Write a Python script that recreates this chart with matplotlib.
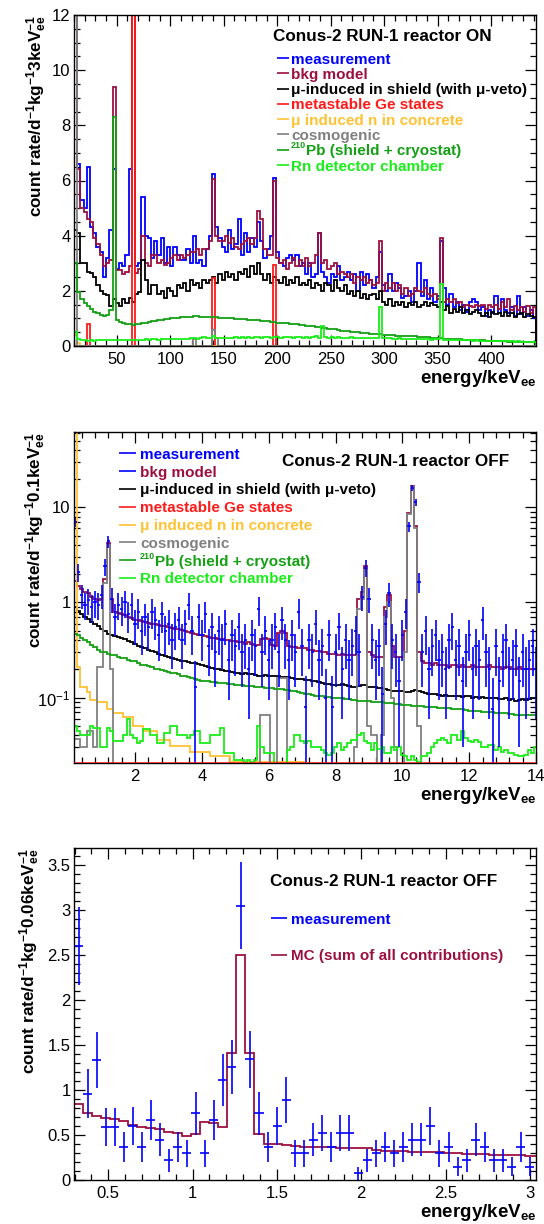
import numpy as np
import matplotlib
matplotlib.use("Agg")
import matplotlib.pyplot as plt
from matplotlib.transforms import offset_copy
from matplotlib.ticker import MultipleLocator, FixedLocator, FuncFormatter, LogLocator, NullFormatter

plt.rcParams['font.family'] = ['Liberation Sans', 'DejaVu Sans']
plt.rcParams['mathtext.fontset'] = 'custom'
plt.rcParams['mathtext.rm'] = 'Liberation Sans'
plt.rcParams['mathtext.bf'] = 'Liberation Sans:bold'
plt.rcParams['mathtext.it'] = 'Liberation Sans:italic'
plt.rcParams['mathtext.sf'] = 'Liberation Sans'

# ======================= DATA =======================
# ---- top panel: reactor ON, 3 keV bins starting at 10 keV ----
top_e_lo, top_bin = 10.0, 3.0
top_meas = [
    35.0, 6.6, 5.3, 5.0, 6.5, 4.3, 4.1, 3.6, 3.4, 2.5,
    3.2, 4.2, 6.4, 2.8, 3.0, 2.9, 3.3, 6.4, 20.0, 2.9,
    3.0, 5.4, 4.0, 3.9, 3.2, 3.8, 3.3, 3.9, 3.0, 3.6,
    2.9, 3.6, 3.3, 3.1, 3.1, 3.5, 3.0, 4.0, 3.0, 3.1,
    2.9, 3.5, 4.0, 6.25, 4.3, 3.9, 3.6, 3.4, 4.2, 3.5,
    3.7, 4.6, 3.3, 4.1, 3.4, 3.9, 3.6, 4.5, 3.8, 3.2,
    3.5, 4.0, 6.1, 3.4, 3.0, 2.9, 3.2, 3.3, 3.1, 3.3,
    2.9, 3.0, 2.6, 3.0, 2.5, 2.6, 4.1, 2.7, 2.5, 2.3,
    2.6, 2.5, 2.9, 2.4, 2.5, 2.7, 2.4, 2.6, 2.0, 2.7,
    2.2, 2.6, 2.4, 2.1, 2.5, 3.4, 2.2, 2.0, 2.6, 2.0,
    2.3, 2.1, 1.75, 1.8, 2.0, 1.6, 2.0, 3.0, 1.8, 2.4,
    1.7, 2.1, 1.6, 1.8, 3.8, 2.1, 1.5, 1.9, 1.4, 1.6,
    1.3, 1.5, 1.25, 1.6, 1.7, 1.6, 1.3, 1.4, 1.1, 1.3,
    1.2, 1.8, 1.2, 1.7, 1.3, 1.2, 1.4, 1.1, 1.8, 1.15,
    1.4, 1.1, 1.3, 1.0]
top_model = [
    35.0, 6.4, 5.0, 4.84, 4.6, 4.5, 3.9, 3.7, 3.3, 2.9,
    3.0, 3.1, 9.4, 2.75, 2.75, 2.6, 2.7, 2.9, 20.0, 2.65,
    2.8, 4.0, 3.0, 2.9, 3.3, 3.3, 3.0, 3.1, 2.95, 3.0,
    3.2, 3.3, 3.1, 3.3, 3.2, 3.3, 3.4, 3.4, 3.5, 3.3,
    3.5, 3.5, 3.8, 6.05, 4.0, 3.8, 3.8, 4.0, 3.75, 3.9,
    3.6, 3.5, 3.7, 3.8, 3.9, 3.7, 3.9, 4.9, 4.6, 3.5,
    3.3, 3.3, 6.0, 3.2, 3.0, 3.1, 2.8, 3.0, 3.2, 2.9,
    3.1, 2.9, 3.2, 2.9, 3.0, 3.3, 4.1, 3.0, 3.1, 2.8,
    2.9, 3.0, 2.6, 2.7, 2.6, 2.5, 2.6, 2.3, 2.5, 2.4,
    2.5, 2.3, 2.4, 2.2, 2.3, 3.8, 2.0, 2.3, 2.1, 2.3,
    2.0, 2.2, 1.9, 2.1, 1.8, 1.9, 2.1, 2.0, 1.95, 2.1,
    1.9, 1.8, 1.9, 1.7, 3.9, 1.6, 1.7, 1.6, 1.7, 1.55,
    1.6, 1.4, 1.5, 1.45, 1.4, 1.5, 1.45, 1.5, 1.35, 1.5,
    1.4, 1.5, 1.35, 1.6, 1.4, 1.7, 1.3, 1.45, 1.3, 1.4,
    1.25, 1.45, 1.2, 1.4]
top_mu = [
    4.2, 4.1, 3.0, 3.0, 2.7, 2.65, 2.5, 2.2, 2.0, 1.9,
    1.85, 1.45, 1.7, 1.55, 1.45, 1.7, 1.55, 1.75, 1.6, 1.9,
    1.95, 3.1, 2.4, 1.9, 2.2, 2.2, 1.9, 2.0, 1.75, 2.1,
    2.0, 1.8, 2.2, 2.1, 2.3, 2.0, 2.4, 2.2, 2.3, 2.1,
    2.4, 2.3, 2.4, 2.5, 2.3, 2.6, 2.4, 2.7, 2.5, 2.6,
    2.4, 2.7, 2.6, 2.8, 2.5, 2.9, 2.6, 3.0, 2.6, 2.4,
    2.6, 2.3, 2.5, 2.4, 2.3, 2.5, 2.2, 2.4, 2.3, 2.5,
    2.2, 2.3, 2.2, 2.4, 2.1, 2.3, 2.2, 2.0, 2.3, 2.2,
    2.0, 2.4, 2.1, 2.0, 2.2, 1.9, 2.0, 1.8, 2.0, 1.75,
    1.9, 1.7, 1.85, 1.9, 1.7, 2.0, 1.6, 1.5, 1.7, 1.45,
    1.6, 1.5, 1.6, 1.4, 1.55, 1.5, 1.6, 1.4, 1.5, 1.6,
    1.45, 1.55, 1.5, 1.4, 1.6, 1.3, 1.45, 1.2, 1.35, 1.25,
    1.4, 1.2, 1.3, 1.15, 1.25, 1.3, 1.2, 1.1, 1.2, 1.05,
    1.25, 1.15, 1.2, 1.1, 1.25, 1.1, 1.2, 1.05, 1.15, 1.2,
    1.05, 1.15, 1.1, 1.05]
top_pb210 = [
    3.0, 1.95, 1.7, 1.55, 1.45, 1.35, 1.25, 1.18, 1.12, 1.1,
    1.12, 1.3, 8.3, 0.93, 0.86, 0.82, 0.8, 0.78, 0.77, 0.78,
    0.8, 0.82, 0.85, 0.87, 0.89, 0.91, 0.93, 0.95, 0.97, 0.99,
    1.0, 1.02, 1.03, 1.04, 1.05, 1.06, 1.06, 1.07, 1.07, 1.06,
    1.06, 1.05, 1.05, 1.04, 1.04, 1.03, 1.03, 1.02, 1.01, 1.0,
    0.99, 0.98, 0.98, 0.97, 0.96, 0.95, 0.94, 0.93, 0.92, 0.9,
    0.89, 0.88, 0.86, 0.85, 0.84, 0.83, 0.82, 0.81, 0.8, 0.78,
    0.77, 0.76, 0.74, 0.73, 0.72, 0.7, 0.69, 0.67, 0.65, 0.63,
    0.61, 0.6, 0.58, 0.56, 0.54, 0.53, 0.52, 0.5, 0.49, 0.48,
    0.47, 0.46, 0.45, 0.44, 0.43, 0.42, 0.41, 0.41, 0.4, 0.39,
    0.38, 0.38, 0.37, 0.37, 0.36, 0.36, 0.35, 0.34, 0.33, 0.32,
    0.31, 0.3, 0.29, 0.28, 0.28, 0.27, 0.26, 0.26, 0.25, 0.24,
    0.24, 0.23, 0.23, 0.22, 0.22, 0.21, 0.2, 0.2, 0.19, 0.19,
    0.18, 0.18, 0.17, 0.17, 0.17, 0.16, 0.16, 0.16, 0.15, 0.15,
    0.15, 0.15, 0.14, 0.14]
top_rn = [
    0.5, 0.25, 0.2, 0.2, 0.19, 0.2, 0.19, 0.2, 0.2, 0.21,
    0.2, 0.21, 0.2, 0.21, 0.22, 0.21, 0.22, 0.22, 0.21, 0.22,
    0.23, 0.22, 0.24, 0.23, 0.24, 0.24, 0.23, 0.25, 0.24, 0.25,
    0.25, 0.26, 0.25, 0.27, 0.26, 0.27, 0.28, 0.3, 0.27, 0.3,
    0.32, 0.28, 0.3, 0.35, 0.3, 0.28, 0.29, 0.3, 0.29, 0.3,
    0.31, 0.3, 0.31, 0.3, 0.32, 0.3, 0.31, 0.32, 0.3, 0.31,
    0.31, 0.3, 0.32, 0.31, 0.3, 0.31, 0.32, 0.31, 0.3, 0.32,
    0.31, 0.3, 0.31, 0.3, 0.32, 0.35, 0.3, 0.72, 0.31, 0.3,
    0.31, 0.3, 0.32, 0.3, 0.29, 0.3, 0.31, 0.3, 0.29, 0.3,
    0.29, 0.28, 0.3, 0.29, 0.3, 1.4, 0.29, 0.3, 0.28, 0.27,
    0.27, 0.28, 0.26, 0.27, 0.26, 0.25, 0.26, 0.25, 0.24, 0.25,
    0.24, 0.23, 0.24, 0.25, 2.25, 0.23, 0.22, 0.21, 0.22, 0.21,
    0.2, 0.21, 0.2, 0.2, 0.19, 0.2, 0.19, 0.19, 0.18, 0.19,
    0.18, 0.18, 0.17, 0.18, 0.17, 0.17, 0.17, 0.16, 0.17, 0.16,
    0.16, 0.16, 0.15, 0.16]
# sparse components: {bin centre [keV]: value}, all other bins are zero
top_meta = {23.5: 0.8, 65.5: 20.0, 140.5: 2.48, 197.5: 2.93}
top_conc = {11.5: 0.4, 14.5: 0.1}
top_cosmo = {11.5: 35.0, 122.5: 0.27, 140.5: 0.58, 143.5: 0.3}

# ---- middle panel: reactor OFF, 0.1 keV bins (centres 0.2 ... 14.0 keV) ----
mid_c0, mid_bin = 0.2, 0.1
mid_meas = [
    7.0, 2.1, 1.2, 0.95, 1.05, 0.9, 1.0, 0.95, 1.2, 2.4,
    4.4, 1.1, 0.7, 0.95, 0.85, 1.0, 0.75, 0.95, 0.6, 0.8,
    0.5, 0.7, 0.55, 0.8, 0.65, 0.45, 0.75, 0.5, 0.6, 0.4,
    0.55, 0.65, 0.4, 0.6, 0.95, 0.5, 0.13, 0.7, 0.45, 0.75,
    0.35, 0.55, 0.3, 0.5, 0.4, 0.6, 0.25, 0.45, 0.35, 0.55,
    0.3, 0.4, 0.2, 0.45, 0.35, 0.85, 0.3, 0.5, 0.25, 0.4,
    0.55, 0.3, 0.65, 0.4, 0.25, 0.45, 0.3, 0.8, 0.35, 0.08,
    0.4, 0.3, 0.6, 0.25, 0.35, 0.1, 0.45, 0.08, 0.3, 0.55,
    0.2, 0.4, 0.25, 0.35, 0.5, 0.3, 1.15, 2.3, 1.1, 0.4,
    0.25, 0.35, 0.11, 0.6, 1.25, 0.4, 0.3, 0.15, 0.45, 0.8,
    6.3, 16.0, 11.3, 1.65, 0.3, 0.5, 0.2, 0.35, 0.45, 0.25,
    0.3, 0.2, 0.4, 0.55, 0.25, 0.35, 0.15, 0.3, 0.45, 0.2,
    0.35, 0.25, 0.65, 0.3, 0.2, 0.075, 0.35, 0.15, 0.3, 0.4,
    0.2, 0.25, 0.35, 0.15, 0.3, 0.2, 0.25, 0.35, 0.2]
mid_meas_err = [
    0.82, 0.45, 0.34, 0.30, 0.32, 0.29, 0.31, 0.30, 0.34, 0.48,
    0.65, 0.33, 0.26, 0.30, 0.29, 0.31, 0.27, 0.30, 0.24, 0.28,
    0.22, 0.26, 0.23, 0.28, 0.25, 0.21, 0.27, 0.22, 0.24, 0.20,
    0.23, 0.25, 0.20, 0.24, 0.30, 0.22, 0.11, 0.26, 0.21, 0.27,
    0.18, 0.23, 0.17, 0.22, 0.20, 0.24, 0.155, 0.21, 0.18, 0.23,
    0.17, 0.20, 0.14, 0.21, 0.18, 0.29, 0.17, 0.22, 0.155, 0.20,
    0.23, 0.17, 0.25, 0.20, 0.155, 0.21, 0.17, 0.28, 0.18, 0.088,
    0.20, 0.17, 0.24, 0.155, 0.18, 0.098, 0.21, 0.088, 0.17, 0.23,
    0.14, 0.20, 0.155, 0.18, 0.22, 0.17, 0.33, 0.47, 0.33, 0.20,
    0.155, 0.18, 0.10, 0.24, 0.35, 0.20, 0.17, 0.12, 0.21, 0.28,
    0.78, 1.24, 1.04, 0.40, 0.17, 0.22, 0.14, 0.18, 0.21, 0.155,
    0.17, 0.14, 0.20, 0.23, 0.155, 0.18, 0.12, 0.17, 0.21, 0.14,
    0.18, 0.155, 0.25, 0.17, 0.14, 0.085, 0.18, 0.12, 0.17, 0.20,
    0.14, 0.155, 0.18, 0.12, 0.17, 0.14, 0.155, 0.18, 0.14]
mid_model = [
    1.7, 1.5, 1.4, 1.3, 1.25, 1.15, 1.1, 1.05, 1.1, 1.75,
    4.2, 1.1, 0.8, 0.78, 0.76, 0.74, 0.7, 0.68, 0.66, 0.65,
    0.64, 0.62, 0.61, 0.6, 0.59, 0.58, 0.57, 0.56, 0.55, 0.54,
    0.53, 0.52, 0.51, 0.5, 0.49, 0.48, 0.47, 0.46, 0.45, 0.44,
    0.43, 0.42, 0.42, 0.41, 0.41, 0.4, 0.4, 0.39, 0.39, 0.38,
    0.38, 0.37, 0.38, 0.37, 0.36, 0.36, 0.41, 0.42, 0.41, 0.36,
    0.35, 0.48, 0.5, 0.48, 0.35, 0.34, 0.34, 0.33, 0.33, 0.33,
    0.32, 0.32, 0.31, 0.31, 0.3, 0.3, 0.29, 0.29, 0.29, 0.28,
    0.29, 0.28, 0.28, 0.28, 0.28, 1.1, 1.3, 2.4, 0.3, 0.28,
    0.27, 0.27, 0.27, 0.9, 1.2, 0.35, 0.27, 0.27, 0.27, 0.5,
    8.8, 16.9, 6.3, 0.3, 0.24, 0.23, 0.23, 0.22, 0.23, 0.22,
    0.22, 0.22, 0.21, 0.22, 0.22, 0.21, 0.22, 0.21, 0.21, 0.22,
    0.21, 0.21, 0.21, 0.21, 0.22, 0.21, 0.21, 0.21, 0.2, 0.21,
    0.21, 0.2, 0.2, 0.21, 0.2, 0.2, 0.2, 0.2, 0.2]
mid_mu = [
    0.9, 0.82, 0.76, 0.71, 0.67, 0.63, 0.59, 0.56, 0.53, 0.5,
    0.47, 0.46, 0.44, 0.43, 0.42, 0.41, 0.39, 0.38, 0.37, 0.35,
    0.34, 0.33, 0.32, 0.31, 0.3, 0.29, 0.28, 0.275, 0.27, 0.26,
    0.255, 0.25, 0.245, 0.24, 0.235, 0.23, 0.23, 0.225, 0.22, 0.215,
    0.21, 0.205, 0.2, 0.2, 0.195, 0.19, 0.19, 0.185, 0.18, 0.18,
    0.178, 0.18, 0.176, 0.175, 0.172, 0.17, 0.17, 0.172, 0.168, 0.17,
    0.168, 0.167, 0.165, 0.165, 0.163, 0.16, 0.158, 0.156, 0.155, 0.153,
    0.152, 0.15, 0.148, 0.145, 0.142, 0.14, 0.138, 0.137, 0.136, 0.135,
    0.138, 0.134, 0.133, 0.13, 0.13, 0.132, 0.135, 0.136, 0.13, 0.128,
    0.13, 0.127, 0.125, 0.123, 0.12, 0.118, 0.118, 0.117, 0.116, 0.115,
    0.114, 0.116, 0.12, 0.118, 0.115, 0.112, 0.11, 0.108, 0.11, 0.107,
    0.105, 0.106, 0.104, 0.105, 0.103, 0.104, 0.102, 0.104, 0.103, 0.1,
    0.101, 0.1, 0.102, 0.099, 0.1, 0.098, 0.099, 0.097, 0.096, 0.098,
    0.094, 0.096, 0.093, 0.095, 0.097, 0.094, 0.096, 0.098, 0.1]
mid_conc = [
    100.0, 0.21, 0.13, 0.13, 0.115, 0.095, 0.095, 0.09, 0.09, 0.09,
    0.075, 0.075, 0.069, 0.069, 0.069, 0.062, 0.062, 0.062, 0.05, 0.05,
    0.05, 0.045, 0.045, 0.045, 0.045, 0.036, 0.036, 0.036, 0.036, 0.031,
    0.031, 0.031, 0.031, 0.031, 0.031, 0.027, 0.027, 0.027, 0.027, 0.027,
    0.027, 0.024, 0.024, 0.024, 0.024, 0.024, 0.024, 0.021, 0.021, 0.021,
    0.021, 0.021, 0.021, 0.021, 0.021, 0.021, 0.021, 0.021, 0.021, 0.021,
    0.021, 0.021, 0.021, 0.021, 0.021, 0.021, 0.021, 0.021, 0.021, 0.015,
    0.015, 0.014, 0.013, 0.012, 0.011, 0.01, 0.0, 0.0, 0.0, 0.0,
    0.0, 0.0, 0.0, 0.0, 0.0, 0.0, 0.0, 0.0, 0.0, 0.0,
    0.0, 0.0, 0.0, 0.0, 0.0, 0.0, 0.0, 0.0, 0.0, 0.0,
    0.0, 0.0, 0.0, 0.0, 0.0, 0.0, 0.0, 0.0, 0.0, 0.0,
    0.0, 0.0, 0.0, 0.0, 0.0, 0.0, 0.0, 0.0, 0.0, 0.0,
    0.0, 0.0, 0.0, 0.0, 0.0, 0.0, 0.0, 0.0, 0.0, 0.0,
    0.0, 0.0, 0.0, 0.0, 0.0, 0.0, 0.0, 0.0, 0.0]
mid_pb210 = [
    0.47, 0.45, 0.42, 0.4, 0.38, 0.36, 0.34, 0.32, 0.3, 0.3,
    0.29, 0.28, 0.28, 0.27, 0.26, 0.26, 0.25, 0.24, 0.24, 0.23,
    0.22, 0.22, 0.215, 0.21, 0.2, 0.2, 0.195, 0.19, 0.185, 0.18,
    0.18, 0.175, 0.17, 0.17, 0.165, 0.16, 0.155, 0.153, 0.15, 0.15,
    0.148, 0.146, 0.145, 0.143, 0.142, 0.141, 0.14, 0.138, 0.137, 0.135,
    0.134, 0.133, 0.132, 0.131, 0.13, 0.129, 0.128, 0.127, 0.126, 0.125,
    0.124, 0.123, 0.122, 0.121, 0.12, 0.118, 0.116, 0.114, 0.112, 0.11,
    0.108, 0.106, 0.105, 0.104, 0.103, 0.102, 0.101, 0.1, 0.1, 0.099,
    0.098, 0.097, 0.096, 0.095, 0.094, 0.093, 0.092, 0.092, 0.091, 0.09,
    0.09, 0.089, 0.089, 0.088, 0.088, 0.087, 0.086, 0.085, 0.084, 0.083,
    0.083, 0.082, 0.082, 0.081, 0.081, 0.08, 0.08, 0.079, 0.079, 0.078,
    0.078, 0.077, 0.077, 0.076, 0.076, 0.075, 0.075, 0.074, 0.073, 0.073,
    0.072, 0.072, 0.071, 0.071, 0.07, 0.07, 0.069, 0.069, 0.068, 0.068,
    0.067, 0.067, 0.066, 0.066, 0.066, 0.065, 0.065, 0.065, 0.065]
mid_rn = [
    0.05, 0.045, 0.04, 0.04, 0.04, 0.05, 0.048, 0.048, 0.03, 0.03,
    0.048, 0.045, 0.035, 0.035, 0.035, 0.04, 0.06, 0.04, 0.038, 0.033,
    0.035, 0.047, 0.047, 0.04, 0.04, 0.033, 0.033, 0.042, 0.042, 0.05,
    0.05, 0.04, 0.04, 0.04, 0.038, 0.04, 0.044, 0.044, 0.033, 0.033,
    0.033, 0.04, 0.04, 0.04, 0.048, 0.026, 0.026, 0.026, 0.022, 0.022,
    0.022, 0.021, 0.022, 0.021, 0.022, 0.05, 0.03, 0.026, 0.026, 0.026,
    0.02, 0.019, 0.019, 0.019, 0.028, 0.03, 0.04, 0.04, 0.035, 0.033,
    0.035, 0.03, 0.03, 0.03, 0.028, 0.026, 0.025, 0.026, 0.03, 0.033,
    0.028, 0.03, 0.033, 0.036, 0.036, 0.04, 0.042, 0.035, 0.033, 0.028,
    0.033, 0.029, 0.03, 0.026, 0.026, 0.03, 0.028, 0.03, 0.025, 0.024,
    0.022, 0.024, 0.022, 0.021, 0.024, 0.024, 0.026, 0.03, 0.033, 0.036,
    0.038, 0.036, 0.033, 0.04, 0.04, 0.036, 0.044, 0.038, 0.035, 0.034,
    0.036, 0.034, 0.03, 0.03, 0.032, 0.032, 0.028, 0.03, 0.027, 0.028,
    0.026, 0.026, 0.025, 0.024, 0.024, 0.025, 0.028, 0.026, 0.03]
mid_meta = {}          # metastable Ge states: zero everywhere in this range
mid_cosmo = {0.2: 0.037, 0.3: 0.037, 0.4: 0.03, 0.5: 0.03, 0.6: 0.045, 0.7: 0.045,
             0.8: 0.03, 0.9: 0.21, 1.0: 0.21, 1.1: 1.6, 1.2: 4.0, 1.3: 0.2,
             5.8: 0.066, 5.9: 0.066, 6.0: 0.066, 6.3: 0.16, 6.4: 0.16, 6.5: 0.16,
             8.6: 0.03, 8.7: 0.85, 8.8: 1.1, 8.9: 2.2, 9.0: 0.05, 9.1: 0.04,
             9.2: 0.04, 9.4: 0.04, 9.5: 0.7, 9.6: 1.0, 9.7: 0.1, 9.8: 0.03,
             10.1: 0.3, 10.2: 8.5, 10.3: 16.5, 10.4: 6.0, 10.5: 0.05}

# ---- bottom panel: reactor OFF, low energy ----
bot_e_lo, bot_bin = 0.297, 0.0535
bot_meas = [
    2.6, 0.96, 1.33, 0.59, 0.59, 0.37, 0.6, 0.37, 0.67, 0.45,
    0.22, 0.37, 0.3, 0.74, 0.3, 0.67, 1.11, 1.26, 3.05, 1.34,
    0.74, 0.37, 0.6, 0.89, 0.3, 0.3, 0.45, 0.52, 0.37, 0.52,
    0.52, 0.075, 0.22, 0.3, 0.37, 0.3, 0.37, 0.45, 0.45, 0.6,
    0.3, 0.37, 0.15, 0.22, 0.45, 0.37, 0.22, 0.22, 0.15, 0.37,
    0.15]
bot_meas_err = [
    0.43, 0.27, 0.31, 0.21, 0.21, 0.165, 0.21, 0.165, 0.22, 0.18,
    0.13, 0.165, 0.15, 0.235, 0.15, 0.22, 0.29, 0.30, 0.48, 0.32,
    0.235, 0.165, 0.21, 0.255, 0.15, 0.15, 0.18, 0.20, 0.165, 0.20,
    0.20, 0.075, 0.13, 0.15, 0.165, 0.15, 0.165, 0.18, 0.18, 0.21,
    0.15, 0.165, 0.105, 0.13, 0.18, 0.165, 0.13, 0.13, 0.105, 0.165,
    0.105]
bot_mc = [
    0.844, 0.748, 0.711, 0.693, 0.674, 0.656, 0.607, 0.593, 0.581, 0.563,
    0.537, 0.519, 0.489, 0.507, 0.648, 0.63, 0.593, 1.407, 2.5, 1.407,
    0.507, 0.4, 0.396, 0.389, 0.381, 0.37, 0.363, 0.37, 0.37, 0.359,
    0.352, 0.352, 0.359, 0.333, 0.326, 0.326, 0.322, 0.315, 0.315, 0.311,
    0.307, 0.304, 0.296, 0.289, 0.285, 0.285, 0.281, 0.281, 0.274, 0.274,
    0.27, 0.268]

# ======================= STYLE =======================
C_MEAS = '#0000ff'
C_MODEL = '#9c1040'
C_MU = '#000000'
C_META = '#ff1a1a'
C_CONC = '#ffc233'
C_COSMO = '#808080'
C_PB = '#14a014'
C_RN = '#19ee19'
LW = 1.3

# legend entries: (superscript prefix, main text)
labels = [('', 'measurement'), ('', 'bkg model'),
          ('', 'μ-induced in shield (with μ-veto)'), ('', 'metastable Ge states'),
          ('', 'μ induced n in concrete'), ('', 'cosmogenic'),
          ('210', 'Pb (shield + cryostat)'), ('', 'Rn detector chamber')]
text_colors = [C_MEAS, C_MODEL, C_MU, C_META, C_CONC, C_COSMO, C_PB, C_RN]


def sparse_to_array(d, c0, w, n):
    a = np.zeros(n)
    for e, v in d.items():
        a[int(round((e - c0) / w))] = v
    return a


def style_axes(ax):
    ax.tick_params(which='both', direction='in', top=True, right=True, width=0.9)
    ax.tick_params(which='major', length=8, labelsize=12)
    ax.tick_params(which='minor', length=4.3)
    ax.tick_params(axis='x', pad=4)
    ax.tick_params(axis='y', pad=2.5)
    for s in ax.spines.values():
        s.set_linewidth(1.0)
        s.set_zorder(6)


def axis_titles(ax, ytext, yx):
    ax.set_ylabel(ytext, fontsize=12.3, fontweight='bold', ha='right', va='baseline')
    ax.yaxis.set_label_coords(yx, 1.0)
    ax.set_xlabel(r'energy/keV$_{\mathbf{ee}}$', fontsize=13.5, fontweight='bold',
                  ha='right', va='baseline')
    ax.xaxis.set_label_coords(1.0, -0.112)


def legend_rows(fig, ax, entries, xl0, xl1, xt, y0, dy, fs=11):
    for k, ((sup, lab), lc, tc) in enumerate(entries):
        y = y0 - k * dy
        ax.plot([xl0, xl1], [y, y], transform=ax.transAxes, color=lc, lw=1.2,
                clip_on=False, solid_capstyle='butt')
        dx = 0.0
        if sup:
            ax.text(xt, y, sup, color=tc, fontsize=6.5, fontweight='bold',
                    va='center_baseline', ha='left',
                    transform=offset_copy(ax.transAxes, fig=fig, x=0, y=3.6, units='points'))
            dx = 11.0
        ax.text(xt, y, lab, color=tc, fontsize=fs, fontweight='bold',
                va='center_baseline', ha='left',
                transform=offset_copy(ax.transAxes, fig=fig, x=dx, y=0, units='points'))


fig = plt.figure(figsize=(5.44, 12.24), dpi=100)
W, H = 544.0, 1224.0
ax1 = fig.add_axes([74 / W, 1 - 346 / H, 462 / W, 331 / H])
ax2 = fig.add_axes([74 / W, 1 - 763 / H, 462 / W, 331 / H])
ax3 = fig.add_axes([74 / W, 1 - 1180 / H, 462 / W, 332 / H])

# ---------------- top panel ----------------
n1 = len(top_meas)
e1 = top_e_lo + top_bin * np.arange(n1 + 1)
c1 = top_e_lo + top_bin / 2
series1 = [
    (top_meas, C_MEAS), (top_model, C_MODEL), (top_mu, C_MU),
    (sparse_to_array(top_meta, c1, top_bin, n1), C_META),
    (sparse_to_array(top_conc, c1, top_bin, n1), C_CONC),
    (sparse_to_array(top_cosmo, c1, top_bin, n1), C_COSMO),
    (top_pb210, C_PB), (top_rn, C_RN)]
for z, (vals, col) in enumerate(series1):
    ax1.stairs(vals, e1, baseline=0, color=col, lw=LW, zorder=2 + 0.1 * z)
ax1.set_xlim(e1[0], e1[-1])
ax1.set_ylim(0, 12)
ax1.xaxis.set_major_locator(MultipleLocator(50))
ax1.xaxis.set_minor_locator(MultipleLocator(10))
ax1.yaxis.set_major_locator(MultipleLocator(2))
ax1.yaxis.set_minor_locator(MultipleLocator(0.5))
style_axes(ax1)
axis_titles(ax1, r'count rate/d$^{\mathbf{-1}}$kg$^{\mathbf{-1}}$3keV$^{\mathbf{-1}}_{\mathbf{ee}}$', -0.069)
ax1.text(0.431, 0.940, 'Conus-2 RUN-1 reactor ON', transform=ax1.transAxes,
         fontsize=12.3, fontweight='bold', va='center_baseline', ha='left')
legend_rows(fig, ax1, list(zip(labels, text_colors, text_colors)),
            0.439, 0.465, 0.4697, 0.870, 0.0462)

# ---------------- middle panel ----------------
n2 = len(mid_meas)
cent2 = mid_c0 + mid_bin * np.arange(n2)
e2 = mid_c0 - mid_bin / 2 + mid_bin * np.arange(n2 + 1)
ax2.set_yscale('log', nonpositive='clip')
Y2 = (0.0205, 62.0)
comp2 = [
    (mid_model, C_MODEL), (mid_mu, C_MU), (mid_conc, C_CONC),
    (sparse_to_array(mid_cosmo, mid_c0, mid_bin, n2), C_COSMO),
    (mid_pb210, C_PB), (mid_rn, C_RN)]
for z, (vals, col) in enumerate(comp2):
    ax2.stairs(vals, e2, baseline=None, color=col, lw=LW, zorder=2 + 0.1 * z)
meta2 = sparse_to_array(mid_meta, mid_c0, mid_bin, n2)
ax2.stairs(np.clip(meta2, Y2[0], None), e2, baseline=None, color=C_META, lw=LW * 1.4, zorder=7)
ax2.errorbar(cent2, mid_meas, yerr=mid_meas_err, xerr=mid_bin / 2, fmt='none',
             ecolor=C_MEAS, elinewidth=1.2, capsize=0, zorder=4)
ax2.set_xlim(0.17, 14.0)
ax2.set_ylim(*Y2)
ax2.xaxis.set_major_locator(MultipleLocator(2))
ax2.xaxis.set_minor_locator(MultipleLocator(0.4))
ax2.yaxis.set_major_locator(FixedLocator([0.1, 1, 10]))
ax2.yaxis.set_minor_locator(LogLocator(base=10, subs=np.arange(2, 10)))
ax2.yaxis.set_minor_formatter(NullFormatter())
ax2.yaxis.set_major_formatter(FuncFormatter(
    lambda v, p: {-1: r'$\mathregular{10^{-1}}$', 0: '1', 1: '10'}.get(int(round(np.log10(v))), '')))
style_axes(ax2)
axis_titles(ax2, r'count rate/d$^{\mathbf{-1}}$kg$^{\mathbf{-1}}$0.1keV$^{\mathbf{-1}}_{\mathbf{ee}}$', -0.072)
ax2.text(0.450, 0.9154, 'Conus-2 RUN-1 reactor OFF', transform=ax2.transAxes,
         fontsize=12.3, fontweight='bold', va='center_baseline', ha='left')
line_cols2 = [C_MEAS, C_MEAS, C_MU, C_META, C_CONC, C_COSMO, C_PB, C_RN]
legend_rows(fig, ax2, list(zip(labels, line_cols2, text_colors)),
            0.0974, 0.134, 0.1429, 0.9356, 0.0538)

# ---------------- bottom panel ----------------
n3 = len(bot_meas)
e3 = bot_e_lo + bot_bin * np.arange(len(bot_mc) + 1)
cent3 = bot_e_lo + bot_bin / 2 + bot_bin * np.arange(n3)
ax3.stairs(bot_mc, e3, baseline=0, color=C_MODEL, lw=LW, zorder=2)
ax3.errorbar(cent3, bot_meas, yerr=bot_meas_err, xerr=bot_bin / 2, fmt='none',
             ecolor=C_MEAS, elinewidth=1.2, capsize=0, zorder=3)
ax3.set_xlim(0.297, 3.036)
ax3.set_ylim(0, 3.69)
ax3.xaxis.set_major_locator(MultipleLocator(0.5))
ax3.xaxis.set_minor_locator(MultipleLocator(0.1))
ax3.yaxis.set_major_locator(MultipleLocator(0.5))
ax3.yaxis.set_minor_locator(MultipleLocator(0.1))
fmt = FuncFormatter(lambda v, p: '%g' % round(v, 3))
ax3.xaxis.set_major_formatter(fmt)
ax3.yaxis.set_major_formatter(fmt)
style_axes(ax3)
axis_titles(ax3, r'count rate/d$^{\mathbf{-1}}$kg$^{\mathbf{-1}}$0.06keV$^{\mathbf{-1}}_{\mathbf{ee}}$', -0.085)
ax3.text(0.424, 0.9036, 'Conus-2 RUN-1 reactor OFF', transform=ax3.transAxes,
         fontsize=12.3, fontweight='bold', va='center_baseline', ha='left')
legend_rows(fig, ax3, [(('', 'measurement'), C_MEAS, C_MEAS),
                       (('', 'MC (sum of all contributions)'), C_MODEL, C_MODEL)],
            0.426, 0.461, 0.47, 0.789, 0.111)

fig.savefig('out.png', dpi=100)
